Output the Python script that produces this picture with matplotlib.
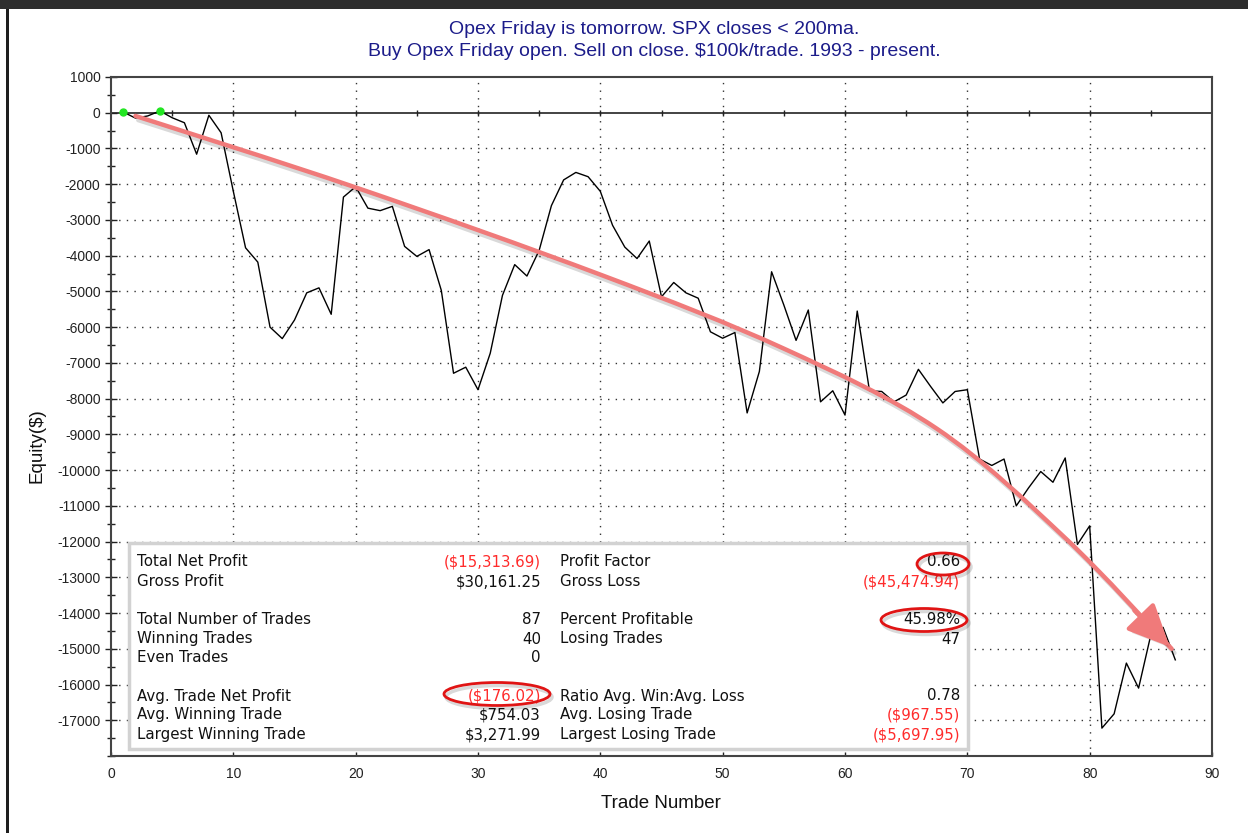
import numpy as np
import matplotlib
matplotlib.use("Agg")
import matplotlib.pyplot as plt
from matplotlib.patches import Rectangle, Ellipse, FancyArrowPatch, ArrowStyle, PathPatch
from matplotlib.path import Path
import matplotlib.patheffects as pe

plt.rcParams["axes.unicode_minus"] = False

# equity curve, one value per trade
trades = np.arange(1, 88)
equity = [20, -150, -90, 50, -140, -280, -1160, -70, -560, -2200,
          -3780, -4180, -6000, -6320, -5800, -5040, -4900, -5640, -2360, -2070,
          -2670, -2740, -2620, -3740, -4020, -3830, -4970, -7290, -7120, -7750,
          -6730, -5110, -4250, -4570, -3850, -2600, -1880, -1670, -1790, -2200,
          -3150, -3760, -4080, -3590, -5150, -4750, -5040, -5190, -6130, -6310,
          -6150, -8400, -7240, -4450, -5380, -6370, -5520, -8090, -7780, -8460,
          -5550, -7780, -7800, -8090, -7900, -7180, -7660, -8120, -7800, -7750,
          -9690, -9870, -9690, -11000, -10500, -10040, -10340, -9660, -12080, -11560,
          -17220, -16820, -15400, -16100, -14610, -14400, -15310]

# hand drawn trend arrow, guide points in data units
arrow_x = [2, 20, 40, 55, 67.5, 78, 86.7]
arrow_y = [-90, -2090, -4530, -6600, -8840, -11900, -15000]

title_lines = ["Opex Friday is tomorrow. SPX closes < 200ma.",
               "Buy Opex Friday open. Sell on close. $100k/trade. 1993 - present."]

left_labels = ["Total Net Profit", "Gross Profit", "",
               "Total Number of Trades", "Winning Trades", "Even Trades", "",
               "Avg. Trade Net Profit", "Avg. Winning Trade", "Largest Winning Trade"]
left_values = ["($15,313.69)", "$30,161.25", "", "87", "40", "0", "",
               "($176.02)", "$754.03", "$3,271.99"]
right_labels = ["Profit Factor", "Gross Loss", "", "Percent Profitable",
                "Losing Trades", "", "", "Ratio Avg. Win:Avg. Loss",
                "Avg. Losing Trade", "Largest Losing Trade"]
right_values = ["0.66", "($45,474.94)", "", "45.98%", "47", "", "",
                "0.78", "($967.55)", "($5,697.95)"]

W, H = 1248, 833
fig = plt.figure(figsize=(W / 100, H / 100), dpi=100)
fig.patch.set_facecolor("white")


def fx(x):
    return x / W


def fy(y):
    return 1 - y / H


ax = fig.add_axes([fx(111), fy(756), fx(1212) - fx(111), fy(77) - fy(756)])
ax.set_xlim(0, 90)
ax.set_ylim(-18000, 1000)

# dotted grid
for gx in range(10, 90, 10):
    ax.axvline(gx, color="#333333", lw=1.0, ls=(0, (1, 4.5)), zorder=1)
for gy in range(-17000, 1000, 1000):
    if gy != 0:
        ax.axhline(gy, color="#333333", lw=1.0, ls=(0, (1, 4.5)), zorder=1)
ax.axhline(0, color="#222222", lw=1.2, zorder=2)
ax.plot(np.arange(5, 90, 5), np.zeros(17), ls="none", marker="|",
        ms=5, mew=1.0, color="#222222", zorder=2)

ax.set_xticks(range(0, 91, 10))
ax.set_yticks(range(-17000, 1001, 1000))
ax.set_yticks(range(-18000, 1001, 500), minor=True)
ax.tick_params(axis="y", which="major", direction="inout", length=9, width=1.0,
               labelsize=10, pad=3, colors="#222222")
ax.tick_params(axis="y", which="minor", direction="inout", length=6, width=1.0,
               colors="#222222")
ax.tick_params(axis="x", which="major", direction="in", length=3, width=1.0,
               labelsize=10, pad=8, colors="#222222")
for lab in ax.get_xticklabels() + ax.get_yticklabels():
    lab.set_fontfamily("Liberation Sans")
for s in ax.spines.values():
    s.set_color("#444444")
    s.set_linewidth(1.5)

# equity line and new-high markers
ax.plot(trades, equity, color="black", lw=1.0, zorder=4)
eq = np.array(equity)
highs = [i for i in range(len(eq)) if eq[i] >= 0 and eq[i] == eq[:i + 1].max()]
ax.plot(trades[highs], eq[highs], ls="none", marker="o", ms=5,
        color="#22e622", zorder=5)

# trend arrow: smooth bezier through guide points (catmull-rom control points)
pts = np.column_stack([arrow_x, arrow_y]).astype(float)
ext = np.vstack([pts[0], pts, pts[-1]])
verts = [pts[0]]
codes = [Path.MOVETO]
for i in range(len(pts) - 1):
    p0, p1, p2, p3 = ext[i], ext[i + 1], ext[i + 2], ext[i + 3]
    verts += [p1 + (p2 - p0) / 6, p2 - (p3 - p1) / 6, p2]
    codes += [Path.CURVE4] * 3
arrow_col = "#f07a7a"
trend = PathPatch(Path(verts, codes), fill=False, edgecolor=arrow_col, lw=3.2,
                  capstyle="round", zorder=6)
trend.set_path_effects([pe.SimpleLineShadow(offset=(2, -3), alpha=0.15), pe.Normal()])
ax.add_patch(trend)
head = FancyArrowPatch((arrow_x[-1] - 3.2, arrow_y[-1] + 1130), (arrow_x[-1], arrow_y[-1]),
                       arrowstyle=ArrowStyle("-|>", head_length=1.3, head_width=0.6),
                       mutation_scale=20, color=arrow_col, lw=3.2, zorder=6)
head.set_path_effects([pe.SimplePatchShadow(offset=(2, -3), alpha=0.15), pe.Normal()])
ax.add_patch(head)

# stats box
box = Rectangle((fx(129), fy(749)), fx(968) - fx(129), fy(543) - fy(749),
                transform=fig.transFigure, facecolor="white",
                edgecolor="#d2d2d2", lw=2.5, zorder=10)
fig.add_artist(box)
row_y = [562, 582, 601, 620, 639, 658, 677, 696, 715, 735]
red = "#ff2b2b"
txt_kw = dict(fontsize=10.8, family="DejaVu Sans", va="center", zorder=12)
for i, yy in enumerate(row_y):
    fig.text(fx(137), fy(yy), left_labels[i], color="#111111", ha="left", **txt_kw)
    v = left_values[i]
    fig.text(fx(541), fy(yy), v, color=red if v.startswith("(") else "#111111",
             ha="right", **txt_kw)
    fig.text(fx(560), fy(yy), right_labels[i], color="#111111", ha="left", **txt_kw)
    v = right_values[i]
    fig.text(fx(960), fy(yy), v, color=red if v.startswith("(") else "#111111",
             ha="right", **txt_kw)

# red ellipses around key figures
for cx, cy, ew, eh in [(943, 564, 52, 22), (924, 620, 86, 23), (497, 694, 106, 23)]:
    sh = Ellipse((fx(cx + 2), fy(cy + 3)), fx(ew), eh / H, transform=fig.transFigure,
                 fill=False, edgecolor="#000000", alpha=0.15, lw=2.5, zorder=13)
    fig.add_artist(sh)
    el = Ellipse((fx(cx), fy(cy)), fx(ew), eh / H, transform=fig.transFigure,
                 fill=False, edgecolor="#e01414", lw=2.0, zorder=14)
    fig.add_artist(el)

# titles and axis labels
fig.text(fx(654), fy(29), title_lines[0], ha="center", va="center",
         fontsize=14, family="Liberation Sans", color="#1c1c8a")
fig.text(fx(654), fy(51), title_lines[1], ha="center", va="center",
         fontsize=14, family="Liberation Sans", color="#1c1c8a")
fig.text(fx(37), fy(446), "Equity($)", rotation=90, ha="center", va="center",
         fontsize=13.5, family="Liberation Sans", color="#111111")
fig.text(fx(661), fy(803), "Trade Number", ha="center", va="center",
         fontsize=13.5, family="Liberation Sans", color="#111111")

# screenshot frame
fig.add_artist(Rectangle((0, fy(9)), 1, 9 / H, transform=fig.transFigure,
                         facecolor="#2e2e2e", edgecolor="none"))
fig.add_artist(Rectangle((fx(6), 0), fx(2.5), fy(9), transform=fig.transFigure,
                         facecolor="#1e1e1e", edgecolor="none"))

fig.savefig("out.png", dpi=100)
